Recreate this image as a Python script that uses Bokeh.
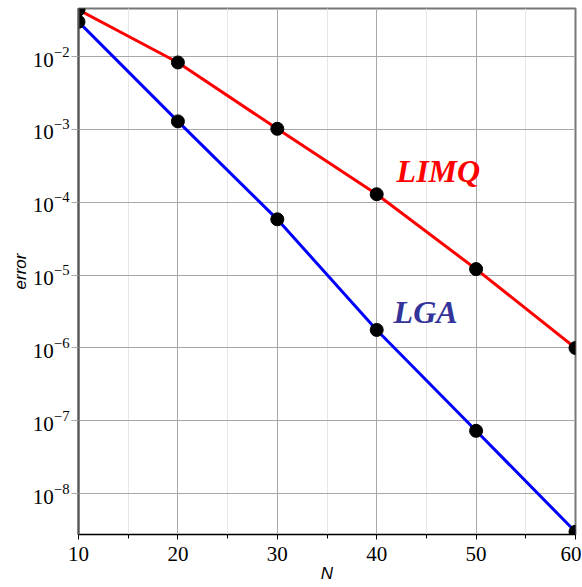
from bokeh.plotting import figure
from bokeh.models import FixedTicker, Range1d, Label, LogTickFormatter
from bokeh.embed import file_html
from bokeh.resources import INLINE

N = [10, 20, 30, 40, 50, 60]
err_limq = [0.044, 0.0083, 0.00102, 1.29e-4, 1.21e-5, 1.0e-6]
err_lga = [0.030, 0.00129, 5.84e-5, 1.77e-6, 7.3e-8, 3.0e-9]
x_ticks = [10, 20, 30, 40, 50, 60]
x_minor = [15, 25, 35, 45, 55]
y_ticks = [1e-8, 1e-7, 1e-6, 1e-5, 1e-4, 1e-3, 1e-2]

p = figure(y_axis_type="log", output_backend="svg", toolbar_location=None,
           frame_width=497, frame_height=526,
           x_range=Range1d(10, 60), y_range=Range1d(10**-8.56, 10**-1.34),
           min_border_left=78, min_border_top=8, min_border_right=6, min_border_bottom=40,
           background_fill_color="white", border_fill_color="white")

p.outline_line_color = "#777777"
p.outline_line_width = 2

# grids
p.xgrid.ticker = FixedTicker(ticks=x_ticks, minor_ticks=x_minor)
p.xaxis.ticker = FixedTicker(ticks=x_ticks, minor_ticks=x_minor)
p.yaxis.ticker = FixedTicker(ticks=y_ticks, minor_ticks=[])
p.ygrid.ticker = FixedTicker(ticks=y_ticks, minor_ticks=[])
for g in (p.xgrid, p.ygrid):
    g.grid_line_color = "#a8a8a8"
    g.grid_line_width = 1
p.xgrid.minor_grid_line_color = "#e6e6e6"
p.xgrid.minor_grid_line_width = 1

p.yaxis.formatter = LogTickFormatter()

# axes
p.xaxis.axis_line_color = "black"
p.xaxis.major_tick_line_color = "black"
p.xaxis.minor_tick_line_color = "black"
p.xaxis.major_tick_in = 0
p.xaxis.major_tick_out = 5
p.xaxis.minor_tick_in = 0
p.xaxis.minor_tick_out = 4
p.xaxis.major_label_standoff = 7
p.yaxis.axis_line_color = "#555555"
p.yaxis.axis_line_width = 2
p.yaxis.major_tick_line_color = "#a8a8a8"
p.yaxis.major_tick_in = 0
p.yaxis.major_tick_out = 7
p.yaxis.minor_tick_line_color = None
p.yaxis.major_label_standoff = 2
for ax in (p.xaxis, p.yaxis):
    ax.major_label_text_font = "Liberation Serif"
    ax.major_label_text_font_size = "21px"
    ax.major_label_text_color = "black"
    ax.axis_label_text_font = "Liberation Sans"
    ax.axis_label_text_font_style = "italic"
    ax.axis_label_text_font_size = "17px"
    ax.axis_label_text_color = "black"
p.xaxis.axis_label = "N"
p.yaxis.axis_label = "error"
p.xaxis.axis_label_standoff = 0
p.yaxis.axis_label_standoff = 0

serif = "Liberation Serif"

# data
p.line(N, err_limq, line_color="#ff0000", line_width=3)
p.line(N, err_lga, line_color="#0000ff", line_width=3)
p.scatter(N, err_limq, size=13, fill_color="black", line_color="black")
p.scatter(N, err_lga, size=13, fill_color="black", line_color="black")

p.add_layout(Label(x=42.0, y=1.5e-4, text="LIMQ", text_color="#ff0000",
                   text_font=serif, text_font_style="bold italic",
                   text_font_size="32px"))
p.add_layout(Label(x=41.7, y=1.76e-6, text="LGA", text_color="#333399",
                   text_font=serif, text_font_style="bold italic",
                   text_font_size="32px"))

open("out.html", "w").write(file_html(p, INLINE))
